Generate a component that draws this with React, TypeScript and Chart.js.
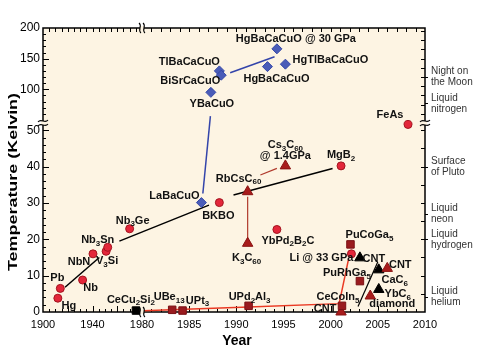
import React, { useEffect, useRef } from "react";
import { Chart, registerables } from "chart.js";
Chart.register(...registerables);

// ---------------- Data ----------------
// Conventional superconductors (red circles), 1900–1980 segment
const convEarlyNames = ["Hg", "Pb", "Nb", "NbN", "V{3}Si", "Nb{3}Sn", "Nb{3}Ge"];
const convEarlyYears = [1912, 1914, 1932, 1940.4, 1951, 1952.3, 1970];
const convEarlyTc = [3.8, 6.5, 8.8, 16.0, 16.7, 17.8, 22.9];

// Conventional superconductors (red circles), 1980–2010 segment
const convLateNames = ["BKBO", "YbPd{2}B{2}C", "MgB{2}", "FeAs", "Li @ 33 GPa"];
const convLateYears = [1988.2, 1994.3, 2001.1, 2008.2, 2002.2];
const convLateTc = [30.1, 22.7, 40.2, 51.6, 16.0];

// Heavy fermion (black square, early)
const cecuNames = ["CeCu{2}Si{2}"];
const cecuYears = [1975.1];
const cecuTc = [0.4];

// Heavy fermion (dark red squares)
const heavyNames = ["UBe{13}", "UPt{3}", "UPd{2}Al{3}", "CeCoIn{5}", "PuCoGa{5}", "PuRhGa{5}"];
const heavyYears = [1983.2, 1984.3, 1991.3, 2001.2, 2002.1, 2003.1];
const heavyTc = [0.6, 0.4, 1.7, 1.7, 18.6, 8.5];

// Carbon-based (red triangles)
const carbonRedNames = ["RbCsC{60}", "K{3}C{60}", "Cs{3}C{60}\n@ 1.4GPa", "CNT", "CNT", "diamond"];
const carbonRedYears = [1991.2, 1991.2, 1995.2, 2001.1, 2006.0, 2004.2];
const carbonRedTc = [33.1, 18.9, 40.2, 0, 12.0, 4.4];

// Carbon-based (black triangles)
const carbonBlackNames = ["CNT", "CaC{6}", "YbC{6}"];
const carbonBlackYears = [2003.1, 2005.1, 2005.1];
const carbonBlackTc = [14.9, 11.6, 6.2];

// Cuprates (blue diamonds)
const cuprateLowNames = ["LaBaCuO"];
const cuprateLowYears = [1986.3];
const cuprateLowTc = [30.1];
const cuprateHighNames = ["YBaCuO", "TlBaCaCuO", "BiSrCaCuO", "HgBaCaCuO", "HgTlBaCaCuO", "HgBaCaCuO @ 30 GPa"];
const cuprateHighYears = [1987.3, 1988.2, 1988.4, 1993.3, 1995.2, 1994.3];
const cuprateHighTc = [95, 130, 123, 137, 141, 166];

// Trend lines
const convTrend1Years = [1917.8, 1945.5];
const convTrend1Tc = [6.8, 15.0];
const convTrend2Years = [1977.6, 1987.1];
const convTrend2Tc = [19.5, 29.4];
const convTrend3Years = [1989.7, 2000.2];
const convTrend3Tc = [32.2, 39.5];
const heavyTrendYears = [1980.1, 1991.3, 2000.9, 2001.9];
const heavyTrendTc = [0.35, 1.4, 2.3, 14.6];
const fullereneTrendAYears = [1991.2, 1991.2];
const fullereneTrendATc = [19.8, 31.7];
const fullereneTrendBYears = [1992.55, 1994.3];
const fullereneTrendBTc = [37.7, 39.5];
const graphiteTrendYears = [2002.9, 2005.0];
const graphiteTrendTc = [1.5, 13.8];
const cuprateTrendLowYears = [1986.45, 1987.25];
const cuprateTrendLowTc = [32.6, 53.9];
const cuprateTrendHighYears = [1989.35, 1994.05];
const cuprateTrendHighTc = [127, 153];

// Temperature landmarks (right side)
const landmarkNames = ["Night on\nthe Moon", "Liquid\nnitrogen", "Surface\nof Pluto", "Liquid\nneon", "Liquid\nhydrogen", "Liquid\nhelium"];
const landmarkTemps = [120, 77, 40, 27, 20, 4.2];

// Tick labels
const xEarlyTicks = [1900, 1940];
const xLateTicks = [1980, 1985, 1990, 1995, 2000, 2005, 2010];
const yLowTicks = [0, 10, 20, 30, 40, 50];
const yHighTicks = [100, 150, 200];

// ---------------- Label placement (pixel offsets from marker) ----------------
const convEarlyLabelOffsets = [[11, 8], [-3, -10], [8, 8], [-14, 8], [1, 10], [-10, -7], [3, -8]];
const convLateLabelOffsets = [[-1, 13], [11, 11], [0, -11], [-18, -9], [-30, 4]];
const cecuLabelOffsets = [[-5, -11]];
const heavyLabelOffsets = [[-3, -13], [15, -10], [1, -9], [-4, -9], [19, -9], [-13, -8]];
const carbonRedLabelOffsets = [[-9, -13], [-1, 15], [0, -21], [-16, -3], [13, -3], [22, 8]];
const carbonBlackLabelOffsets = [[14, 1], [16, 10], [19, 5]];
const cuprateLowLabelOffsets = [[-27, -7]];
const cuprateHighLabelOffsets = [[1, 12], [-30, -9], [-31, 6], [9, 12], [45, -4], [19, -10]];

const FONT = "'Liberation Sans', Arial, Helvetica, sans-serif";
const MAIN_FONT = `bold 11px ${FONT}`;
const SUB_FONT = `bold 8px ${FONT}`;

const pts = (xs: number[], ys: number[]) => xs.map((x, i) => ({ x, y: ys[i] }));

type Seg = { t: string; sub: boolean };
function parseRich(s: string): Seg[] {
  const out: Seg[] = [];
  const re = /\{([^}]*)\}/g;
  let last = 0;
  let m: RegExpExecArray | null;
  while ((m = re.exec(s))) {
    if (m.index > last) out.push({ t: s.slice(last, m.index), sub: false });
    out.push({ t: m[1], sub: true });
    last = m.index + m[0].length;
  }
  if (last < s.length) out.push({ t: s.slice(last), sub: false });
  return out;
}
function drawRich(ctx: CanvasRenderingContext2D, s: string, cx: number, cy: number) {
  const segs = parseRich(s);
  let w = 0;
  for (const g of segs) {
    ctx.font = g.sub ? SUB_FONT : MAIN_FONT;
    w += ctx.measureText(g.t).width;
  }
  let x = cx - w / 2;
  ctx.textAlign = "left";
  ctx.textBaseline = "middle";
  for (const g of segs) {
    ctx.font = g.sub ? SUB_FONT : MAIN_FONT;
    ctx.fillText(g.t, x, g.sub ? cy + 3.5 : cy);
    x += ctx.measureText(g.t).width;
  }
}

const labelGroups = [
  { names: convEarlyNames, xs: convEarlyYears, ys: convEarlyTc, xa: "xL", ya: "yL", off: convEarlyLabelOffsets },
  { names: convLateNames, xs: convLateYears, ys: convLateTc, xa: "xR", ya: "yL", off: convLateLabelOffsets },
  { names: cecuNames, xs: cecuYears, ys: cecuTc, xa: "xL", ya: "yL", off: cecuLabelOffsets },
  { names: heavyNames, xs: heavyYears, ys: heavyTc, xa: "xR", ya: "yL", off: heavyLabelOffsets },
  { names: carbonRedNames, xs: carbonRedYears, ys: carbonRedTc, xa: "xR", ya: "yL", off: carbonRedLabelOffsets },
  { names: carbonBlackNames, xs: carbonBlackYears, ys: carbonBlackTc, xa: "xR", ya: "yL", off: carbonBlackLabelOffsets },
  { names: cuprateLowNames, xs: cuprateLowYears, ys: cuprateLowTc, xa: "xR", ya: "yL", off: cuprateLowLabelOffsets },
  { names: cuprateHighNames, xs: cuprateHighYears, ys: cuprateHighTc, xa: "xR", ya: "yH", off: cuprateHighLabelOffsets },
];

function breakOnVertical(ctx: CanvasRenderingContext2D, x: number, y: number, bg: string) {
  ctx.save();
  ctx.fillStyle = bg;
  ctx.fillRect(x - 2, y - 2, 4, 4);
  ctx.strokeStyle = "#000";
  ctx.lineWidth = 1.1;
  for (const d of [-2, 2]) {
    ctx.beginPath();
    ctx.moveTo(x - 5, y + d + 1);
    ctx.bezierCurveTo(x - 2, y + d - 3, x + 2, y + d + 3, x + 5, y + d - 1);
    ctx.stroke();
  }
  ctx.restore();
}
function breakOnHorizontal(ctx: CanvasRenderingContext2D, x: number, y: number, bg: string) {
  ctx.save();
  ctx.fillStyle = bg;
  ctx.fillRect(x - 2, y - 2, 4, 4);
  ctx.strokeStyle = "#000";
  ctx.lineWidth = 1.1;
  for (const d of [-2, 2]) {
    ctx.beginPath();
    ctx.moveTo(x + d - 1, y - 5);
    ctx.bezierCurveTo(x + d + 3, y - 2, x + d - 3, y + 2, x + d + 1, y + 5);
    ctx.stroke();
  }
  ctx.restore();
}

const BG = "#fdf4e3";

const decorPlugin = {
  id: "decor",
  beforeDraw(chart: any) {
    const { ctx, chartArea: a } = chart;
    ctx.save();
    ctx.fillStyle = BG;
    ctx.fillRect(a.left, a.top, a.right - a.left, a.bottom - a.top);
    ctx.restore();
  },
  beforeDatasetsDraw(chart: any) {
    const { ctx, chartArea: a, scales } = chart;
    const { xL, xR, yL, yH } = scales;
    ctx.save();
    ctx.strokeStyle = "#000";
    ctx.lineWidth = 1;
    ctx.beginPath();
    // bottom & top ticks
    for (let v = 1905; v < 1980; v += 5) {
      const p = Math.round(xL.getPixelForValue(v)) + 0.5;
      const len = v % 20 === 0 ? 6 : 3;
      ctx.moveTo(p, a.bottom); ctx.lineTo(p, a.bottom - len);
      ctx.moveTo(p, a.top); ctx.lineTo(p, a.top + 4);
    }
    for (let v = 1981; v < 2010; v++) {
      const p = Math.round(xR.getPixelForValue(v)) + 0.5;
      const len = v % 5 === 0 ? 6 : 3;
      ctx.moveTo(p, a.bottom); ctx.lineTo(p, a.bottom - len);
      ctx.moveTo(p, a.top); ctx.lineTo(p, a.top + 4);
    }
    // left ticks
    for (let v = 2; v <= 50; v += 2) {
      const p = Math.round(yL.getPixelForValue(v)) + 0.5;
      const len = v % 10 === 0 ? 6 : 3;
      ctx.moveTo(a.left, p); ctx.lineTo(a.left + len, p);
    }
    for (let v = 60; v < 200; v += 10) {
      const p = Math.round(yH.getPixelForValue(v)) + 0.5;
      const len = v % 50 === 0 ? 6 : 3;
      ctx.moveTo(a.left, p); ctx.lineTo(a.left + len, p);
    }
    // right ticks
    for (let v = 5; v <= 50; v += 5) {
      const p = Math.round(yL.getPixelForValue(v)) + 0.5;
      ctx.moveTo(a.right, p); ctx.lineTo(a.right - 4, p);
    }
    for (let v = 60; v < 200; v += 15) {
      const p = Math.round(yH.getPixelForValue(v)) + 0.5;
      ctx.moveTo(a.right, p); ctx.lineTo(a.right - 4, p);
    }
    // landmark ticks (outward)
    landmarkTemps.forEach((t) => {
      const sc = t > 50 ? yH : yL;
      const p = Math.round(sc.getPixelForValue(t)) + 0.5;
      ctx.moveTo(a.right, p); ctx.lineTo(a.right + 3, p);
    });
    ctx.stroke();
    // frame
    ctx.lineWidth = 1.5;
    ctx.strokeRect(a.left, a.top, a.right - a.left, a.bottom - a.top);
    ctx.restore();
  },
  afterDatasetsDraw(chart: any) {
    const { ctx, chartArea: a, scales } = chart;
    ctx.save();
    ctx.fillStyle = "#111";
    for (const g of labelGroups) {
      const xs = scales[g.xa];
      const ys = scales[g.ya];
      g.names.forEach((name, i) => {
        const px = xs.getPixelForValue(g.xs[i]);
        const py = ys.getPixelForValue(g.ys[i]);
        const lines = name.split("\n");
        lines.forEach((ln, k) => {
          drawRich(ctx, ln, px + g.off[i][0], py + g.off[i][1] + k * 11);
        });
      });
    }
    // axis breaks
    const yBreak = scales.yL.top;
    const xBreak = scales.xR.left;
    breakOnVertical(ctx, a.left, yBreak, BG);
    breakOnVertical(ctx, a.right, yBreak, BG);
    breakOnHorizontal(ctx, xBreak, a.top, BG);
    breakOnHorizontal(ctx, xBreak, a.bottom, BG);
    // right landmark labels
    ctx.fillStyle = "#333";
    ctx.font = `10px ${FONT}`;
    ctx.textAlign = "left";
    ctx.textBaseline = "middle";
    landmarkNames.forEach((name, i) => {
      const t = landmarkTemps[i];
      const sc = t > 50 ? scales.yH : scales.yL;
      const p = sc.getPixelForValue(t);
      const lines = name.split("\n");
      lines.forEach((ln, k) => {
        ctx.fillText(ln, a.right + 6, p + (k - (lines.length - 1) / 2) * 11);
      });
    });
    // axis titles
    ctx.fillStyle = "#000";
    ctx.font = `bold 14px ${FONT}`;
    ctx.textAlign = "center";
    ctx.fillText("Year", (a.left + a.right) / 2 + 3, 341);
    ctx.save();
    ctx.translate(13, (a.top + a.bottom) / 2 + 12);
    ctx.rotate(-Math.PI / 2);
    ctx.scale(1.38, 1);
    ctx.font = `bold 13px ${FONT}`;
    ctx.fillText("Temperature (Kelvin)", 0, 0);
    ctx.restore();
    ctx.restore();
  },
};

const tickFont = { family: FONT, size: 12 };
const plainLabel = (v: any) => String(v);

function axisBase(extra: any) {
  return {
    type: "linear",
    grid: { display: false, drawTicks: false },
    border: { display: false },
    ...extra,
  };
}

export default function App() {
  const ref = useRef<HTMLCanvasElement | null>(null);
  useEffect(() => {
    document.body.style.margin = "0";
    if (!ref.current) return;
    const red = { backgroundColor: "#e3263a", borderColor: "#a3141f", borderWidth: 1, pointStyle: "circle", pointRadius: 4 };
    const sq = { backgroundColor: "#9a1b1f", borderColor: "#7a1015", borderWidth: 1, pointStyle: "rect", pointRadius: 5.3 };
    const triR = { backgroundColor: "#a81c1c", borderColor: "#8a1212", borderWidth: 1, pointStyle: "triangle", pointRadius: 6 };
    const triK = { backgroundColor: "#000", borderColor: "#000", borderWidth: 1, pointStyle: "triangle", pointRadius: 6 };
    const dia = { backgroundColor: "#4a5cb8", borderColor: "#3548a8", borderWidth: 1, pointStyle: "rectRot", pointRadius: 5 };
    const line = (xs: number[], ys: number[], xa: string, ya: string, color: string, w: number) => ({
      data: pts(xs, ys), xAxisID: xa, yAxisID: ya, showLine: true, pointRadius: 0,
      borderColor: color, borderWidth: w, order: 2, clip: false as any,
    });
    const mk = (xs: number[], ys: number[], xa: string, ya: string, style: any) => ({
      data: pts(xs, ys), xAxisID: xa, yAxisID: ya, showLine: false, order: 1, clip: false as any,
      ...style, pointHoverRadius: style.pointRadius,
    });
    const xTicks = { font: { ...tickFont, size: 11 }, color: "#000", padding: 6, autoSkip: false, maxRotation: 0, callback: plainLabel };
    const yTicks = { font: tickFont, color: "#000", padding: 3, autoSkip: false, callback: plainLabel };
    const chart = new Chart(ref.current, {
      type: "scatter",
      data: {
        datasets: [
          mk(convEarlyYears, convEarlyTc, "xL", "yL", red),
          mk(convLateYears, convLateTc, "xR", "yL", red),
          mk(cecuYears, cecuTc, "xL", "yL", { ...sq, backgroundColor: "#000", borderColor: "#000" }),
          mk(heavyYears, heavyTc, "xR", "yL", sq),
          mk(carbonRedYears, carbonRedTc, "xR", "yL", triR),
          mk(carbonBlackYears, carbonBlackTc, "xR", "yL", triK),
          mk(cuprateLowYears, cuprateLowTc, "xR", "yL", dia),
          mk(cuprateHighYears, cuprateHighTc, "xR", "yH", dia),
          line(convTrend1Years, convTrend1Tc, "xL", "yL", "#000", 1.5),
          line(convTrend2Years, convTrend2Tc, "xR", "yL", "#000", 1.5),
          line(convTrend3Years, convTrend3Tc, "xR", "yL", "#000", 1.5),
          line(heavyTrendYears, heavyTrendTc, "xR", "yL", "#ea3a24", 1.5),
          line(fullereneTrendAYears, fullereneTrendATc, "xR", "yL", "#b0392c", 1.2),
          line(fullereneTrendBYears, fullereneTrendBTc, "xR", "yL", "#b0392c", 1.2),
          line(graphiteTrendYears, graphiteTrendTc, "xR", "yL", "#000", 1.2),
          line(cuprateTrendLowYears, cuprateTrendLowTc, "xR", "yL", "#3344aa", 1.5),
          line(cuprateTrendHighYears, cuprateTrendHighTc, "xR", "yH", "#3344aa", 1.5),
        ] as any,
      },
      options: {
        responsive: false,
        animation: false,
        events: [],
        layout: { padding: { top: 28, right: 55, left: 0, bottom: 0 } },
        plugins: { legend: { display: false }, tooltip: { enabled: false } },
        scales: {
          xL: axisBase({
            axis: "x", position: "bottom", stack: "xs", stackWeight: 99, min: 1900, max: 1980,
            ticks: xTicks,
            afterBuildTicks: (s: any) => { s.ticks = xEarlyTicks.map((v) => ({ value: v })); },
            afterFit: (s: any) => { s.height = 48; },
          }),
          xR: axisBase({
            axis: "x", position: "bottom", stack: "xs", stackWeight: 283, min: 1980, max: 2010,
            ticks: xTicks,
            afterBuildTicks: (s: any) => { s.ticks = xLateTicks.map((v) => ({ value: v })); },
            afterFit: (s: any) => { s.height = 48; },
          }),
          yL: axisBase({
            axis: "y", position: "left", stack: "ys", stackWeight: 189, min: 0, max: 52,
            ticks: yTicks,
            afterBuildTicks: (s: any) => { s.ticks = yLowTicks.map((v) => ({ value: v })); },
            afterFit: (s: any) => { s.width = 43; },
          }),
          yH: axisBase({
            axis: "y", position: "left", stack: "ys", stackWeight: 95, min: 45, max: 200,
            ticks: yTicks,
            afterBuildTicks: (s: any) => { s.ticks = yHighTicks.map((v) => ({ value: v })); },
            afterFit: (s: any) => { s.width = 43; },
          }),
        } as any,
      },
      plugins: [decorPlugin as any],
    });
    return () => chart.destroy();
  }, []);
  return <canvas ref={ref} width={480} height={360} style={{ display: "block", width: 480, height: 360 }} />;
}
